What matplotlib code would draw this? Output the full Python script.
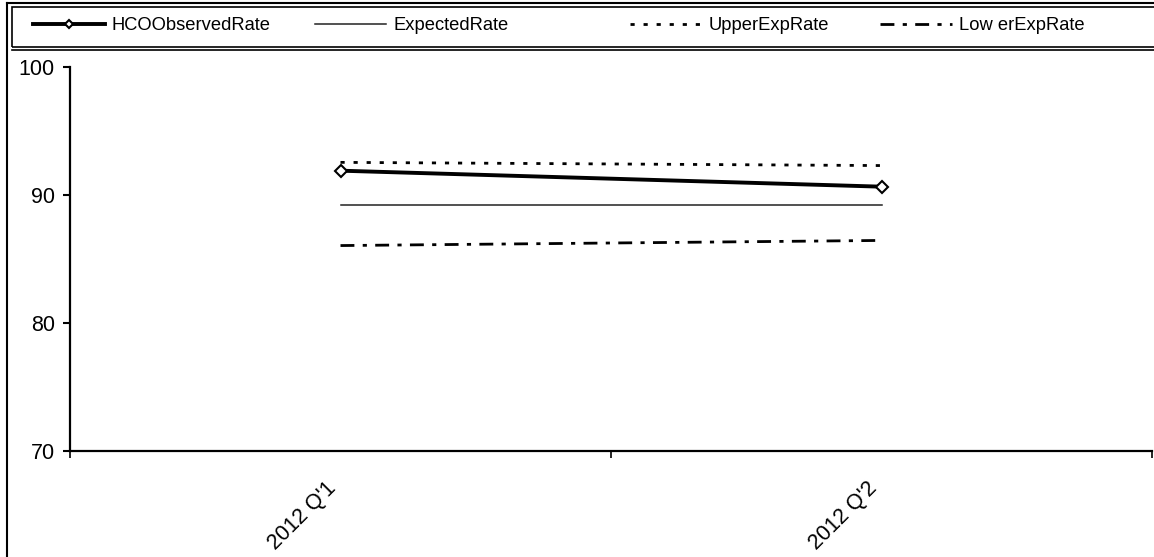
import matplotlib
matplotlib.use('Agg')
import matplotlib.pyplot as plt
from matplotlib.lines import Line2D
from matplotlib.patches import Rectangle
import numpy as np

plt.rcParams['font.family'] = ['Liberation Sans', 'DejaVu Sans']

## data
quarters = ["2012 Q'1", "2012 Q'2"]
observed = [91.9, 90.65]
expected = [89.2, 89.2]
upper = [92.55, 92.3]
lower = [86.05, 86.45]
labels = ['HCOObservedRate', 'ExpectedRate', 'UpperExpRate', 'Low erExpRate']

W, H = 1154, 557
fig = plt.figure(figsize=(W/100, H/100), dpi=100)
ax = fig.add_axes([70/W, 1-451/H, (1152-70)/W, (451-67)/H])

x = np.arange(len(quarters))

## lines
l_obs, = ax.plot(x, observed, color='black', lw=2.8, marker='D', ms=6.5,
                 mfc='white', mec='black', mew=1.5, zorder=5)
l_exp, = ax.plot(x, expected, color='#222222', lw=1.1)
l_up, = ax.plot(x, upper, color='black', lw=2.0, dashes=(1.5, 3.2))
l_low, = ax.plot(x, lower, color='black', lw=2.0, dashes=(5.0, 3.0, 1.5, 3.0))

## axes formatting
ax.set_xlim(-0.5, len(quarters)-0.5)
ax.set_ylim(70, 100)
ax.set_yticks([70, 80, 90, 100])
ax.set_xticks([-0.5, 0.5, 1.5])
ax.set_xticklabels([])
ax.set_xticks(x, minor=True)
ax.set_xticklabels(quarters, minor=True, rotation=45, ha='right', va='top')
ax.tick_params(axis='x', which='minor', length=0, pad=19, labelsize=15.5)
ax.tick_params(axis='x', which='major', length=5, width=1.2)
ax.tick_params(axis='y', length=5, width=1.5, pad=6, labelsize=15.5)
for s in ['top', 'right']:
    ax.spines[s].set_visible(False)
for s in ['left', 'bottom']:
    ax.spines[s].set_linewidth(1.6)

## frame lines of the picture
fig.add_artist(Line2D([7/W, 7/W], [0, 1-3/H], color='black', lw=1.5))
fig.add_artist(Line2D([7/W, 1], [1-3/H, 1-3/H], color='black', lw=1.5))
fig.add_artist(Rectangle((12/W, 1-47/H), 1.0, 40/H, fill=False, ec='black', lw=1.2))
fig.add_artist(Line2D([12/W, 1], [1-49.5/H, 1-49.5/H], color='black', lw=1.2))

## legend, one entry per box to match the spacing
handles = [l_obs, l_exp, l_up, l_low]
xpos = [33, 315, 630, 880]
for h, lab, xp in zip(handles, labels, xpos):
    leg = fig.legend([h], [lab], loc='center left', bbox_to_anchor=(xp/W, 1-26/H),
                     frameon=False, borderpad=0, borderaxespad=0, fontsize=13.2,
                     handlelength=3.9, handletextpad=0.4, markerscale=0.7)

fig.savefig('out.png', dpi=100)
